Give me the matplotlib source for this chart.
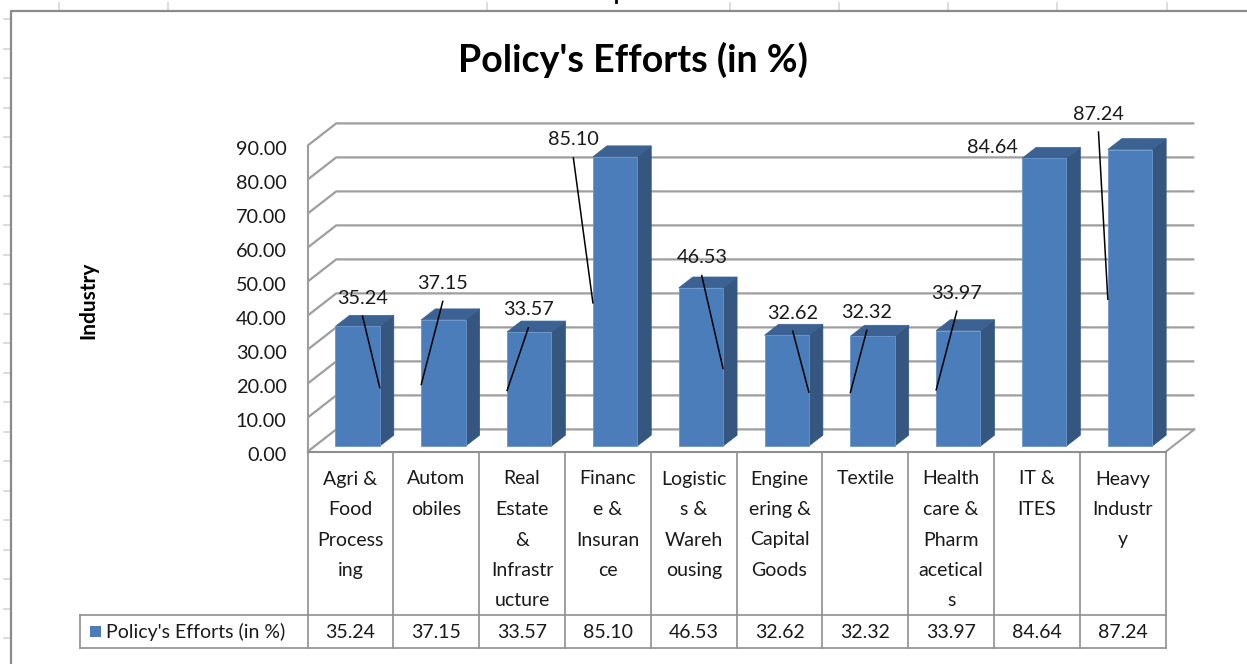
import matplotlib
matplotlib.use("Agg")
import matplotlib.pyplot as plt
import matplotlib.transforms as mtransforms
from matplotlib.patches import Polygon, Rectangle
from matplotlib.lines import Line2D

# data
categories = ["Agri &\nFood\nProcess\ning", "Autom\nobiles", "Real\nEstate\n&\nInfrastr\nucture",
              "Financ\ne &\nInsuran\nce", "Logistic\ns &\nWareh\nousing", "Engine\nering &\nCapital\nGoods",
              "Textile", "Health\ncare &\nPharm\nacetical\ns", "IT &\nITES", "Heavy\nIndustr\ny"]
values = [35.24, 37.15, 33.57, 85.10, 46.53, 32.62, 32.32, 33.97, 84.64, 87.24]
yticks = [0, 10, 20, 30, 40, 50, 60, 70, 80, 90]
series_name = "Policy's Efforts (in %)"
chart_title = "Policy's Efforts (in %)"
axis_title = "Industry"

# where excel put the data labels (offset from bar index / value) and leader end side
label_dx = [0.641, 0.576, 0.573, 0.098, 0.594, 0.655, 0.517, 0.566, -0.014, 0.217]
label_dy = [9.96, 12.35, 8.13, 6.6, 10.57, 8.08, 8.68, 12.63, 4.86, 12.06]
leader_side = ['r', 'l', 'l', 'l', 'r', 'r', 'l', 'l', None, 'l']

# style
FONT = ['Lato', 'DejaVu Sans']
plt.rcParams['font.family'] = FONT
front_c = '#4a7dba'
side_c = '#34567f'
top_c = '#3b6292'
grid_c = '#9e9e9e'
table_c = '#8f8f8f'

W, H = 1247, 664
X0, CW = 307.5, 85.82     # left of plot, category width (px)
Y0, VS = 451.7, 3.4       # baseline (px from top), px per unit
DXF = 28.7 / CW           # depth offset in data units
DYF = 22.3 / VS

fig = plt.figure(figsize=(W / 100, H / 100), dpi=100)
fig.patch.set_facecolor('white')

def fx(px):
    return px / W

def fy(py):
    return 1 - py / H

ax = fig.add_axes([fx(X0), fy(Y0), 10 * CW / W, 90 * VS / H])
ax.set_xlim(0, 10)
ax.set_ylim(0, 90)
ax.axis('off')

# spreadsheet bits around the chart
for x in [59, 168, 487, 730, 839, 948, 1057, 1167]:
    fig.add_artist(Line2D([fx(x), fx(x)], [fy(3), fy(10)], color='#d4d4d4', lw=1.2,
                          transform=fig.transFigure))
y = 19.2
while y < H:
    fig.add_artist(Line2D([fx(4), fx(10)], [fy(y), fy(y)], color='#d4d4d4', lw=1.2,
                          transform=fig.transFigure))
    y += 29.47
fig.add_artist(Line2D([fx(615.5), fx(615.5)], [fy(0), fy(2)], color='black', lw=2,
                      transform=fig.transFigure))
fig.add_artist(Line2D([fx(11), fx(11), fx(W)], [fy(H), fy(11), fy(11)], color='#8a8a8a', lw=1.6,
                      transform=fig.transFigure))

# walls: side wall diagonals + back wall gridlines
for t in yticks:
    ax.plot([0, DXF, 10 + DXF], [t, t + DYF, t + DYF], color=grid_c, lw=1.6,
            clip_on=False, zorder=1, solid_capstyle='butt')
ax.plot([10, 10 + DXF], [0, DYF], color=grid_c, lw=1.5, clip_on=False, zorder=1)
ax.plot([0, 0], [0, 90], color=grid_c, lw=1.5, clip_on=False, zorder=1)

# bars
d0, d1, hw = 0.25, 0.74, 0.258

def P(x, yv, d):
    return (x + d * DXF, yv + d * DYF)

for i, v in enumerate(values):
    xl, xr = i + 0.5 - hw, i + 0.5 + hw
    front = [P(xl, 0, d0), P(xr, 0, d0), P(xr, v, d0), P(xl, v, d0)]
    side = [P(xr, 0, d0), P(xr, 0, d1), P(xr, v, d1), P(xr, v, d0)]
    top = [P(xl, v, d0), P(xr, v, d0), P(xr, v, d1), P(xl, v, d1)]
    ax.add_patch(Polygon(side, closed=True, fc=side_c, ec=side_c, lw=0.5, clip_on=False, zorder=3))
    ax.add_patch(Polygon(top, closed=True, fc=top_c, ec=top_c, lw=0.5, clip_on=False, zorder=3))
    ax.add_patch(Polygon(front, closed=True, fc=front_c, ec='#6b95cc', lw=0.6, clip_on=False, zorder=4))

# data labels with leader lines
for i, v in enumerate(values):
    lx, ly = i + label_dx[i], v + label_dy[i]
    ax.text(lx, ly, f"{v:.2f}", ha='center', va='center', fontsize=14.3, color='#1a1a1a',
            zorder=6, clip_on=False)
    if leader_side[i] is not None:
        ex = i + 0.5 + (hw if leader_side[i] == 'r' else -hw) + d0 * DXF
        ey = v / 2 + d0 * DYF * 0.75
        ax.plot([lx, ex], [ly - 5.3, ey], color='black', lw=1.1, clip_on=False, zorder=5)

# value axis labels
for t in yticks:
    ax.annotate(f"{t:.2f}", (0, t), xytext=(-21, -3.6), textcoords='offset pixels',
                ha='right', va='center', fontsize=14.3, color='#1a1a1a', annotation_clip=False)

# data table under the plot
tr = mtransforms.blended_transform_factory(ax.transData, fig.transFigure)
xleft = (80 - X0) / CW
row_top, row_mid, row_bot = Y0, 615, 648
for k in range(11):
    ax.add_line(Line2D([k, k], [fy(row_top), fy(row_bot)], color=table_c, lw=1.2,
                       transform=tr, clip_on=False))
ax.add_line(Line2D([0, 10], [fy(row_top), fy(row_top)], color=table_c, lw=1.5,
                   transform=tr, clip_on=False))
ax.add_line(Line2D([xleft, 10], [fy(row_mid), fy(row_mid)], color=table_c, lw=1.2,
                   transform=tr, clip_on=False))
ax.add_line(Line2D([xleft, 10], [fy(row_bot), fy(row_bot)], color=table_c, lw=1.2,
                   transform=tr, clip_on=False))
ax.add_line(Line2D([xleft, xleft], [fy(row_mid), fy(row_bot)], color=table_c, lw=1.2,
                   transform=tr, clip_on=False))

for i, cat in enumerate(categories):
    for j, line in enumerate(cat.split('\n')):
        ax.text(i + 0.5, fy(479 + 30.5 * j), line, transform=tr, ha='center', va='center',
                fontsize=14, color='#1a1a1a', clip_on=False)
    ax.text(i + 0.5, fy(632), f"{values[i]:.2f}", transform=tr, ha='center', va='center',
            fontsize=14, color='#1a1a1a', clip_on=False)

fig.add_artist(Rectangle((fx(90), fy(637)), 11 / W, 11 / H, fc=front_c, ec='none',
                         transform=fig.transFigure))
fig.text(fx(106), fy(632), series_name, ha='left', va='center', fontsize=14, color='#1a1a1a')

# titles
fig.text(fx(633), fy(60), chart_title, ha='center', va='center', fontsize=27,
         fontweight='bold', color='black')
fig.text(fx(88), fy(300), axis_title, ha='center', va='center', rotation=90, fontsize=15,
         fontweight='bold', color='black')

fig.savefig('out.png', dpi=100, facecolor='white')
